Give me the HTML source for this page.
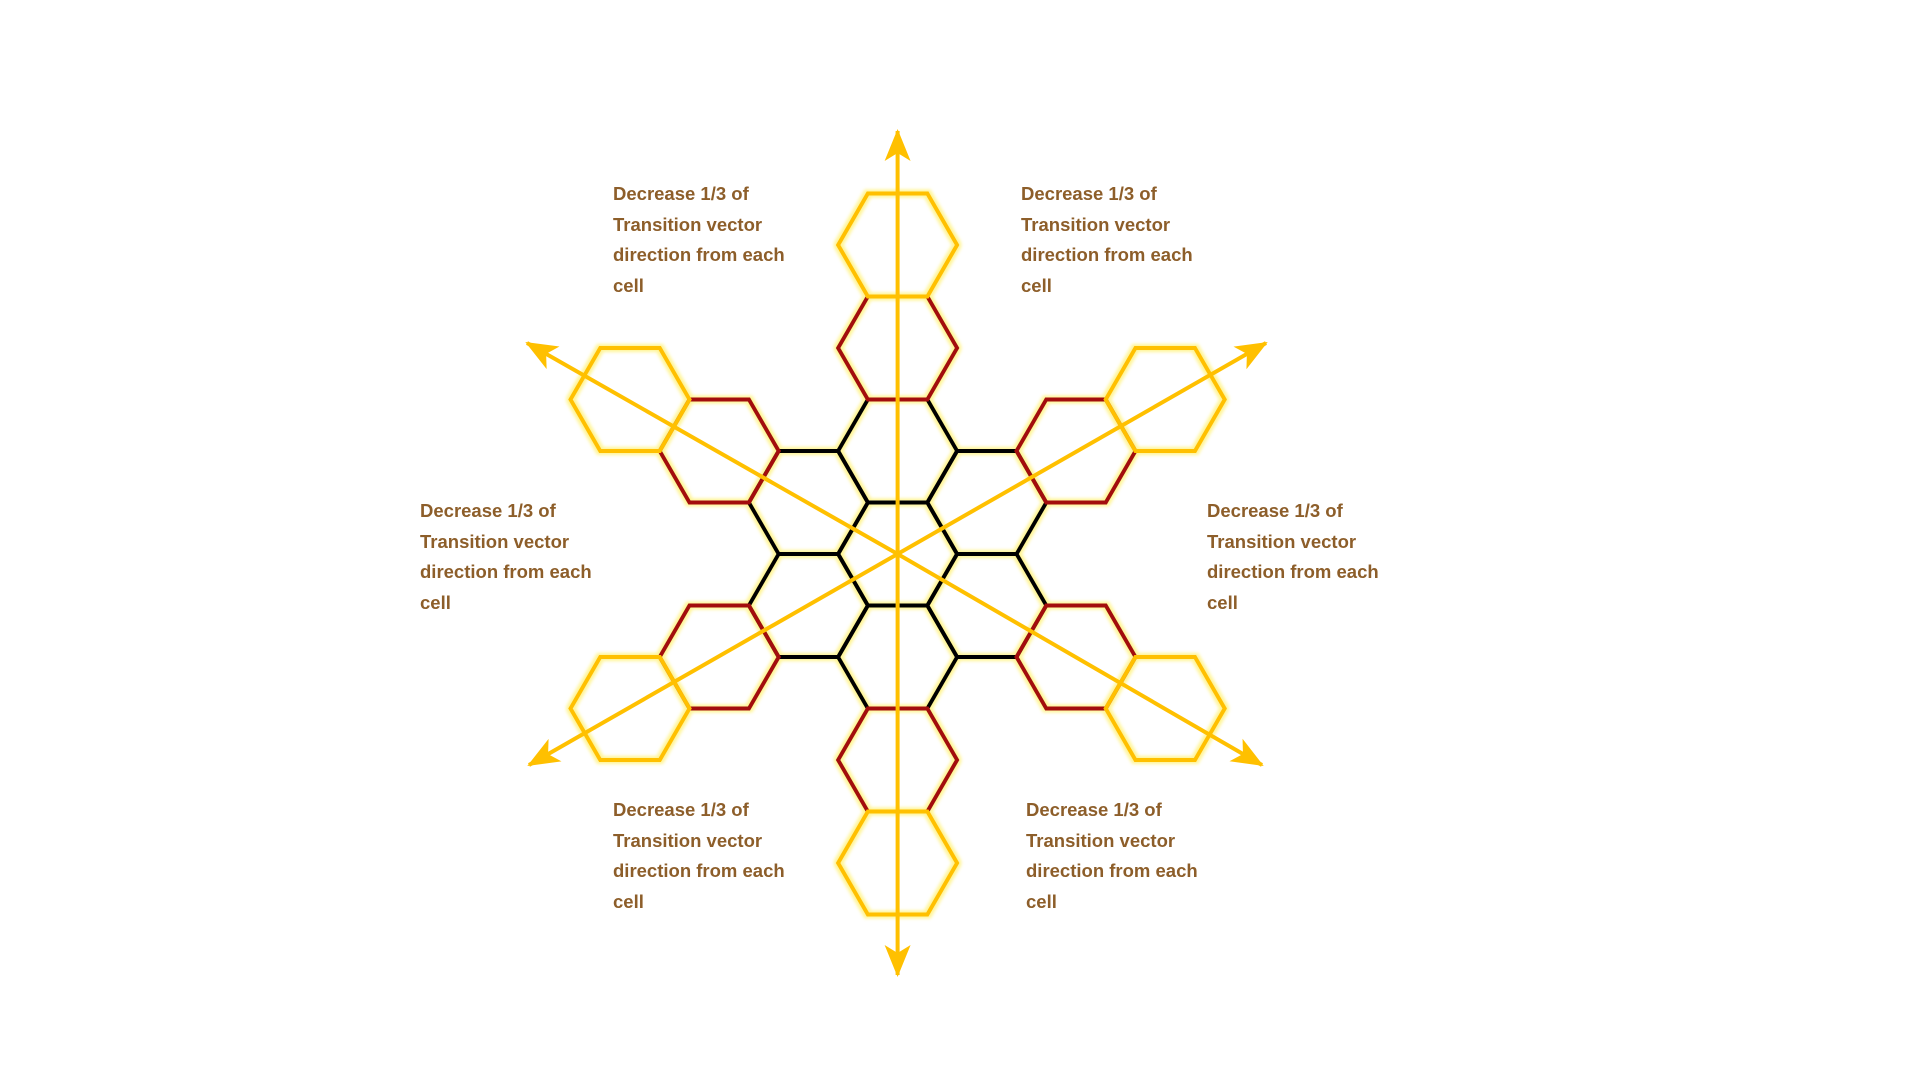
<!DOCTYPE html>
<html><head><meta charset="utf-8"><style>
html,body{margin:0;padding:0;background:#fff;}
body{width:1920px;height:1080px;overflow:hidden;position:relative;}
.t{position:absolute;font-family:"Liberation Sans",sans-serif;font-weight:bold;font-size:18.5px;line-height:30.5px;color:#8d5e2a;white-space:nowrap;}
</style></head><body>
<svg width="1920" height="1080" style="position:absolute;left:0;top:0">
<defs>
<filter id="g" x="-20%" y="-20%" width="140%" height="140%">
<feMorphology in="SourceAlpha" operator="dilate" radius="2" result="d"/>
<feGaussianBlur in="d" stdDeviation="1.5" result="b"/>
<feFlood flood-color="#fff27a" flood-opacity="0.8"/>
<feComposite in2="b" operator="in" result="gl"/>
<feMerge><feMergeNode in="gl"/><feMergeNode in="SourceGraphic"/></feMerge>
</filter>
<polygon id="h" points="59.5,0 29.75,51.5 -29.75,51.5 -59.5,0 -29.75,-51.5 29.75,-51.5" fill="none"/>
<marker id="a" markerUnits="userSpaceOnUse" markerWidth="40" markerHeight="40" refX="30" refY="15" orient="auto">
<path d="M0,2 L32,15 L0,28 L8,15 Z" fill="#ffc000"/>
</marker>
</defs>
<g filter="url(#g)" stroke-width="4" stroke-linejoin="miter">
<g stroke="#000">
<use href="#h" x="897.6" y="554"/>
<use href="#h" x="897.6" y="451"/>
<use href="#h" x="986.8" y="502.5"/>
<use href="#h" x="986.8" y="605.5"/>
<use href="#h" x="897.6" y="657"/>
<use href="#h" x="808.4" y="605.5"/>
<use href="#h" x="808.4" y="502.5"/>
</g>
<g stroke="#a30d0d">
<use href="#h" x="897.6" y="348"/>
<use href="#h" x="1076" y="451"/>
<use href="#h" x="1076" y="657"/>
<use href="#h" x="897.6" y="760"/>
<use href="#h" x="719.2" y="657"/>
<use href="#h" x="719.2" y="451"/>
</g>
<g stroke="#ffc000">
<use href="#h" x="897.6" y="245"/>
<use href="#h" x="1165.2" y="399.5"/>
<use href="#h" x="1165.2" y="708.5"/>
<use href="#h" x="897.6" y="863"/>
<use href="#h" x="630" y="708.5"/>
<use href="#h" x="630" y="399.5"/>
</g>
</g>
<g stroke="#ffc000" stroke-width="4" marker-end="url(#a)">
<line x1="897.6" y1="554" x2="897.6" y2="131"/>
<line x1="897.6" y1="554" x2="897.6" y2="975"/>
<line x1="897.6" y1="554" x2="1266" y2="343"/>
<line x1="897.6" y1="554" x2="529" y2="765"/>
<line x1="897.6" y1="554" x2="527" y2="343"/>
<line x1="897.6" y1="554" x2="1262" y2="765"/>
</g>
</svg>
<div class="t" style="left:613px;top:179px">Decrease 1/3 of<br>Transition vector<br>direction from each<br>cell</div>
<div class="t" style="left:1021px;top:179px">Decrease 1/3 of<br>Transition vector<br>direction from each<br>cell</div>
<div class="t" style="left:420px;top:496px">Decrease 1/3 of<br>Transition vector<br>direction from each<br>cell</div>
<div class="t" style="left:1207px;top:496px">Decrease 1/3 of<br>Transition vector<br>direction from each<br>cell</div>
<div class="t" style="left:613px;top:795px">Decrease 1/3 of<br>Transition vector<br>direction from each<br>cell</div>
<div class="t" style="left:1026px;top:795px">Decrease 1/3 of<br>Transition vector<br>direction from each<br>cell</div>
</body></html>
